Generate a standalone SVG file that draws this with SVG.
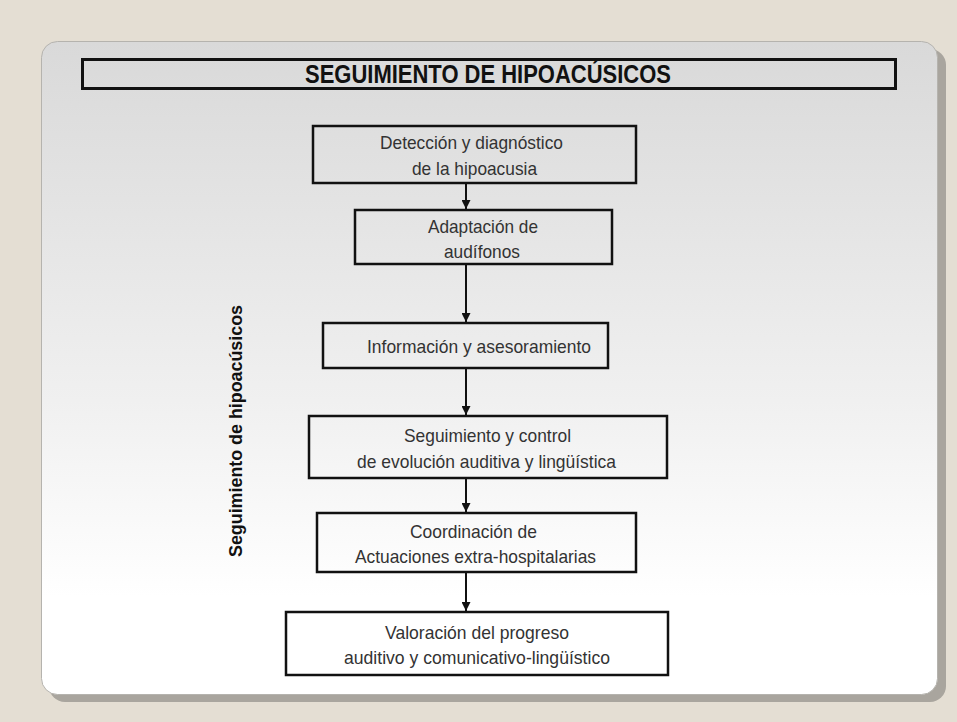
<svg xmlns="http://www.w3.org/2000/svg" width="957" height="722" viewBox="0 0 957 722">
  <style>
    .box { fill: none; stroke: #111; stroke-width: 2.5; }
    .lbl { font-family: "Liberation Sans Narrow", "Liberation Sans", Arial, sans-serif; font-size: 19px; fill: #333; text-anchor: start; }
    .edge { stroke: #111; stroke-width: 2; fill: none; marker-end: url(#arrow); }
  </style>
  <defs>
    <linearGradient id="panelFill" x1="0" y1="0" x2="0" y2="1">
      <stop offset="0" stop-color="#d9d9d9"/>
      <stop offset="0.55" stop-color="#f0f0f0"/>
      <stop offset="0.85" stop-color="#ffffff"/>
      <stop offset="1" stop-color="#ffffff"/>
    </linearGradient>
    <marker id="arrow" viewBox="0 0 10 10" refX="10" refY="5" markerWidth="4.5" markerHeight="4.5" orient="auto" markerUnits="strokeWidth">
      <path d="M0,0 L10,5 L0,10 z" fill="#111"/>
    </marker>
  </defs>

  <!-- page background -->
  <rect x="0" y="0" width="957" height="722" fill="#e4ded3"/>

  <!-- panel with drop shadow -->
  <rect x="49" y="49" width="897" height="653" rx="16" fill="#a9a59e"/>
  <rect x="41.5" y="41.5" width="896" height="653" rx="16" fill="url(#panelFill)" stroke="#b5b3ae" stroke-width="1"/>

  <!-- title bar -->
  <g id="title">
    <rect x="82.5" y="59.5" width="813" height="29" fill="none" stroke="#111" stroke-width="3"/>
    <text x="305" y="83" font-family="'Liberation Sans', Arial, sans-serif" font-size="26" font-weight="bold" fill="#111" textLength="366" lengthAdjust="spacingAndGlyphs">SEGUIMIENTO DE HIPOACÚSICOS</text>
  </g>

  <!-- side label -->
  <g id="side-label">
    <text transform="translate(242,557) rotate(-90)" x="0" y="0" font-family="'Liberation Sans', Arial, sans-serif" font-size="19" font-weight="bold" fill="#111" textLength="252" lengthAdjust="spacingAndGlyphs">Seguimiento de hipoacúsicos</text>
  </g>

  <!-- connectors -->
  <g id="connectors">
    <line class="edge" x1="466" y1="184" x2="466" y2="209"/>
    <line class="edge" x1="466" y1="265" x2="466" y2="322"/>
    <line class="edge" x1="466" y1="369" x2="466" y2="415"/>
    <line class="edge" x1="466" y1="479" x2="466" y2="512"/>
    <line class="edge" x1="466" y1="573" x2="466" y2="611"/>
  </g>

  <g id="n1">
    <rect class="box" x="313" y="126" width="323" height="57"/>
    <text class="lbl" x="380" y="149" textLength="183" lengthAdjust="spacingAndGlyphs">Detección y diagnóstico</text>
    <text class="lbl" x="412" y="175" textLength="125" lengthAdjust="spacingAndGlyphs">de la hipoacusia</text>
  </g>

  <g id="n2">
    <rect class="box" x="355" y="210" width="257" height="54"/>
    <text class="lbl" x="428" y="233" textLength="110" lengthAdjust="spacingAndGlyphs">Adaptación de</text>
    <text class="lbl" x="444" y="258" textLength="76" lengthAdjust="spacingAndGlyphs">audífonos</text>
  </g>

  <g id="n3">
    <rect class="box" x="323" y="323" width="285" height="45"/>
    <text class="lbl" x="367" y="353" textLength="224" lengthAdjust="spacingAndGlyphs">Información y asesoramiento</text>
  </g>

  <g id="n4">
    <rect class="box" x="309" y="416" width="358" height="62"/>
    <text class="lbl" x="404" y="442" textLength="167" lengthAdjust="spacingAndGlyphs">Seguimiento y control</text>
    <text class="lbl" x="357" y="468" textLength="259" lengthAdjust="spacingAndGlyphs">de evolución auditiva y lingüística</text>
  </g>

  <g id="n5">
    <rect class="box" x="317" y="513" width="319" height="59"/>
    <text class="lbl" x="410" y="538" textLength="127" lengthAdjust="spacingAndGlyphs">Coordinación de</text>
    <text class="lbl" x="355" y="563" textLength="241" lengthAdjust="spacingAndGlyphs">Actuaciones extra-hospitalarias</text>
  </g>

  <g id="n6">
    <rect class="box" x="286" y="612" width="382" height="63"/>
    <text class="lbl" x="385" y="639" textLength="184" lengthAdjust="spacingAndGlyphs">Valoración del progreso</text>
    <text class="lbl" x="344" y="664" textLength="266" lengthAdjust="spacingAndGlyphs">auditivo y comunicativo-lingüístico</text>
  </g>
</svg>
